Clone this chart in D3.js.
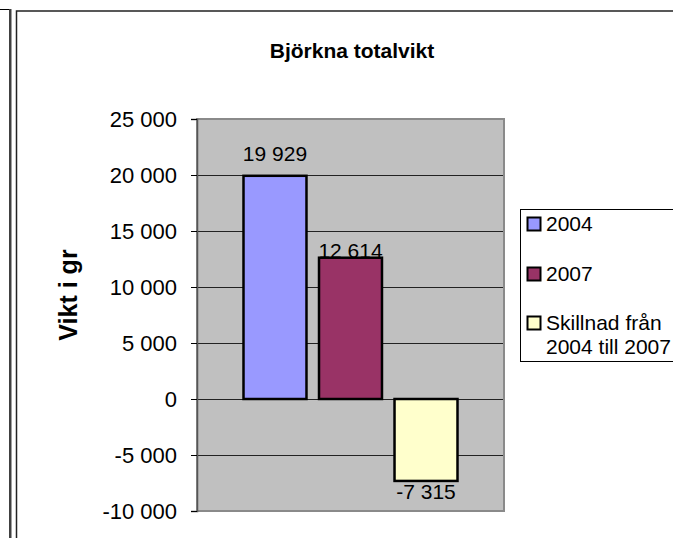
<!DOCTYPE html>
<html>
<head>
<meta charset="utf-8">
<script src="https://cdn.jsdelivr.net/npm/d3@7"></script>
<style>
html,body{margin:0;padding:0;background:#fff;}
svg{display:block;font-family:"Liberation Sans",Arial,sans-serif;}
</style>
</head>
<body>
<svg id="chart" width="673" height="538"></svg>
<script>
const chartTitle = "Björkna totalvikt";
const yAxisTitle = "Vikt i gr";
const categories = [""];
const seriesNames = ["2004", "2007", "Skillnad från 2004 till 2007"];
const seriesLegendLines = [["2004"], ["2007"], ["Skillnad från", "2004 till 2007"]];
const seriesValues = [19929, 12614, -7315];
const yTicks = [-10000, -5000, 0, 5000, 10000, 15000, 20000, 25000];

const colors = ["#9999ff", "#993366", "#ffffcc"];

const svg = d3.select("#chart");
const plot = {left: 197, right: 504, top: 119, bottom: 511};

const loc = d3.formatLocale({decimal: ",", thousands: "\u00a0", grouping: [3], currency: ["", " kr"], minus: "-"});
const fmt = loc.format(",d");

// Outer decorations
svg.append("line").attr("x1", 0).attr("x2", 10).attr("y1", 9.5).attr("y2", 9.5).attr("stroke", "#000").attr("stroke-width", 1);
svg.append("rect").attr("x", 9).attr("y", 9).attr("width", 2.5).attr("height", 540).attr("fill", "#404040");
svg.append("rect").attr("x", 16.5).attr("y", 11).attr("width", 700).attr("height", 600)
  .attr("fill", "#fff").attr("stroke", "#222").attr("stroke-width", 1.5);

// Title
svg.append("text").attr("x", 352).attr("y", 58).attr("text-anchor", "middle")
  .attr("font-weight", "bold").attr("font-size", 21).attr("fill", "#000").text(chartTitle);

const y = d3.scaleLinear().domain([d3.min(yTicks), d3.max(yTicks)]).range([plot.bottom, plot.top]);
const x0 = d3.scaleBand().domain(categories).range([plot.left, plot.right]).paddingInner(0).paddingOuter(0.2173);
const x1 = d3.scaleBand().domain(seriesNames).range([0, x0.bandwidth()]).paddingInner(0.166);

// Plot area
svg.append("rect").attr("x", plot.left).attr("y", plot.top)
  .attr("width", plot.right - plot.left).attr("height", plot.bottom - plot.top)
  .attr("fill", "#c0c0c0");

// Gridlines
svg.append("g").selectAll("line").data(yTicks.filter(t => t !== d3.max(yTicks) && t !== d3.min(yTicks)))
  .join("line")
  .attr("x1", plot.left).attr("x2", plot.right)
  .attr("y1", d => Math.round(y(d)) + 0.5).attr("y2", d => Math.round(y(d)) + 0.5)
  .attr("stroke", "#222").attr("stroke-width", 1);

svg.append("rect").attr("x", plot.left).attr("y", plot.top)
  .attr("width", plot.right - plot.left).attr("height", plot.bottom - plot.top)
  .attr("fill", "none").attr("stroke", "#8a8a8a").attr("stroke-width", 2);

// Y axis
const yAxis = d3.axisLeft(y).tickValues(yTicks).tickFormat(fmt).tickSize(6).tickPadding(14);
const gy = svg.append("g").attr("transform", `translate(${plot.left},0)`).call(yAxis);
gy.select(".domain").attr("stroke", "#555").attr("stroke-width", 1.5);
gy.selectAll(".tick line").attr("stroke", "#000");
gy.selectAll(".tick text").attr("font-size", 22).attr("fill", "#000")
  .attr("font-family", "Liberation Sans, Arial, sans-serif");

// Y axis title
svg.append("text").attr("transform", `translate(77,295) rotate(-90)`)
  .attr("text-anchor", "middle").attr("font-weight", "bold").attr("font-size", 25).attr("fill", "#000")
  .text(yAxisTitle);

// Bars
const bars = seriesNames.map((s, i) => ({name: s, value: seriesValues[i], cat: categories[0], i}));
svg.append("g").selectAll("rect").data(bars).join("rect")
  .attr("x", d => x0(d.cat) + x1(d.name))
  .attr("y", d => y(Math.max(0, d.value)))
  .attr("width", x1.bandwidth())
  .attr("height", d => Math.abs(y(d.value) - y(0)))
  .attr("fill", (d, i) => colors[i])
  .attr("stroke", "#000").attr("stroke-width", 2.5);

// Data labels
const labelOffset = [-15, 0, 18];
svg.append("g").selectAll("text").data(bars).join("text")
  .attr("x", d => x0(d.cat) + x1(d.name) + x1.bandwidth() / 2)
  .attr("y", (d, i) => y(d.value) + labelOffset[i])
  .attr("text-anchor", "middle").attr("font-size", 21).attr("fill", "#000")
  .text(d => fmt(d.value));

// Legend
const lg = svg.append("g");
lg.append("rect").attr("x", 520.5).attr("y", 209.5).attr("width", 300).attr("height", 152)
  .attr("fill", "#fff").attr("stroke", "#000").attr("stroke-width", 1);
const legendY = [224, 274, 323];
seriesNames.forEach((s, i) => {
  lg.append("rect").attr("x", 527.5).attr("y", legendY[i] - 6.5).attr("width", 13).attr("height", 13)
    .attr("fill", colors[i]).attr("stroke", "#000").attr("stroke-width", 2);
  const t = lg.append("text").attr("x", 546).attr("y", legendY[i] + 7).attr("font-size", 21).attr("fill", "#000");
  seriesLegendLines[i].forEach((line, j) => {
    t.append("tspan").attr("x", 546).attr("dy", j === 0 ? 0 : 24).text(line);
  });
});
</script>
</body>
</html>
